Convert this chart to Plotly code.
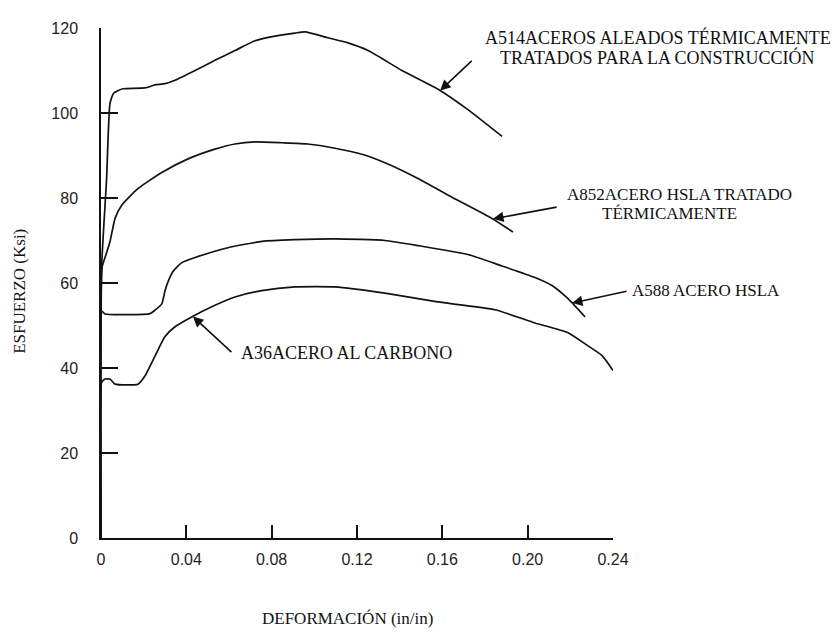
import plotly.graph_objects as go

# ---------------- data (strain in/in, stress ksi) ----------------
a514_strain = [0, 0.0003, 0.0026, 0.0042, 0.0058, 0.0081, 0.0103, 0.0206, 0.0253, 0.0300,
               0.0347, 0.0441, 0.0534, 0.0628, 0.0722, 0.0816, 0.0909, 0.0956, 0.1064,
               0.1158, 0.1252, 0.1411, 0.1580, 0.1720, 0.1880]
a514_stress = [0, 63.7, 84.3, 102.2, 104.6, 105.3, 105.7, 105.9, 106.6, 106.9,
               107.7, 110.0, 112.4, 114.7, 117.0, 118.1, 118.8, 119.1, 117.7,
               116.5, 114.7, 110.0, 105.6, 100.8, 94.5]

a852_strain = [0, 0.0005, 0.0019, 0.0042, 0.0066, 0.0097, 0.0173, 0.0285, 0.0408, 0.0534,
               0.0628, 0.0722, 0.0848, 0.0970, 0.1097, 0.1223, 0.1331, 0.1486, 0.1645,
               0.1833, 0.1931]
a852_stress = [0, 63.7, 66.0, 69.7, 75.2, 78.3, 82.2, 86.0, 89.2, 91.5,
               92.7, 93.2, 93.0, 92.7, 91.7, 90.3, 88.3, 84.6, 80.2,
               75.2, 72.0]

a588_strain = [0, 0.0003, 0.0019, 0.0230, 0.0253, 0.0285, 0.0300, 0.0316, 0.0339, 0.0379,
               0.0441, 0.0595, 0.0755, 0.0909, 0.1097, 0.1331, 0.1486, 0.1720, 0.1880,
               0.2034, 0.2114, 0.2189, 0.2269]
a588_stress = [0, 53.4, 52.7, 52.8, 53.6, 55.1, 58.2, 60.5, 62.8, 64.8,
               66.0, 68.3, 69.8, 70.2, 70.4, 70.0, 68.8, 66.7, 64.0,
               61.3, 59.4, 56.3, 52.0]

a36_strain = [0, 0.0003, 0.0019, 0.0042, 0.0066, 0.0173, 0.0206, 0.0253, 0.0300, 0.0347,
              0.0425, 0.0519, 0.0628, 0.0753, 0.0909, 0.1097, 0.1331, 0.1570, 0.1847,
              0.2034, 0.2189, 0.2283, 0.2349, 0.2400]
a36_stress = [0, 36.6, 37.4, 37.4, 36.2, 36.2, 38.1, 42.8, 47.4, 49.7,
              52.0, 54.4, 56.7, 58.2, 59.1, 59.1, 57.6, 55.6, 53.7,
              50.6, 48.3, 45.2, 42.9, 39.4]

x_ticks = [0, 0.04, 0.08, 0.12, 0.16, 0.20, 0.24]
x_tick_labels = ["0", "0.04", "0.08", "0.12", "0.16", "0.20", "0.24"]
y_ticks = [0, 20, 40, 60, 80, 100, 120]
y_tick_labels = ["0", "20", "40", "60", "80", "100", "120"]

# ---------------- figure ----------------
INK = "#111111"
SERIF = "Liberation Serif, Times New Roman, serif"
SANS = "Liberation Sans, Arial, sans-serif"

fig = go.Figure()
for xs, ys in [(a514_strain, a514_stress), (a852_strain, a852_stress),
               (a588_strain, a588_stress), (a36_strain, a36_stress)]:
    fig.add_trace(go.Scatter(x=xs, y=ys, mode="lines",
                             line=dict(color=INK, width=1.7, shape="spline", smoothing=0.5),
                             showlegend=False, hoverinfo="skip"))

# page body has an 8px margin; figure placed at (8, 8) on screen
W, H = 831, 624
L, R, T, B = 93, 226, 12, 94
# plot area in screen pixels
SX0, SX1, SY0, SY1 = 101, 613, 20, 538


def px(xs):
    return (xs - SX0) / (SX1 - SX0)


def py(ys):
    return (SY1 - ys) / (SY1 - SY0)


annotations = []
labels = [
    ("A514ACEROS ALEADOS TÉRMICAMENTE", 658, 30, "center", 18),
    ("TRATADOS PARA LA CONSTRUCCIÓN", 657, 50, "center", 18),
    ("A852ACERO HSLA TRATADO", 565, 189, "left", 17),
    ("TÉRMICAMENTE", 600, 208, "left", 17),
    ("A588 ACERO HSLA", 630, 287, "left", 17),
    ("A36ACERO AL CARBONO", 239, 350, "left", 18),
]
for txt, xs, ys, anc, fs in labels:
    annotations.append(dict(text=txt, x=px(xs), y=py(ys), xref="paper", yref="paper",
                            xanchor=anc, yanchor="middle", showarrow=False,
                            font=dict(family=SERIF, size=fs, color=INK)))

# arrows (head on curve in data coords, tail offset in pixels)
arrows = [
    (0.1590, 105.3, 33, -31),
    (0.1838, 75.1, 65, -12),
    (0.2208, 55.3, 56, -12),
    (0.0431, 52.1, 40, 37),
]
for xh, yh, axp, ayp in arrows:
    annotations.append(dict(text="", x=xh, y=yh, xref="x", yref="y", ax=axp, ay=ayp,
                            showarrow=True, arrowhead=2, arrowsize=1.3, arrowwidth=1.6,
                            arrowcolor=INK, standoff=0))

annotations.append(dict(text="DEFORMACIÓN (in/in)", x=px(347), y=py(620), xref="paper",
                        yref="paper", xanchor="center", yanchor="middle", showarrow=False,
                        font=dict(family=SERIF, size=17, color=INK)))
annotations.append(dict(text="ESFUERZO (Ksi)", x=px(20), y=py(288), xref="paper",
                        yref="paper", xanchor="center", yanchor="middle", showarrow=False,
                        textangle=-90, font=dict(family=SERIF, size=17, color=INK)))

axis_common = dict(showgrid=False, zeroline=False, showline=True, linecolor=INK,
                   linewidth=1.5, ticks="inside", tickwidth=1.5, tickcolor=INK,
                   tickfont=dict(family=SANS, size=16, color="#222222"))

fig.update_layout(
    width=W, height=H,
    margin=dict(l=L, r=R, t=T, b=B, pad=0),
    paper_bgcolor="white", plot_bgcolor="white",
    xaxis=dict(range=[0, 0.24], tickmode="array", tickvals=x_ticks, ticktext=x_tick_labels,
               ticklen=13, ticklabelstandoff=6, **axis_common),
    yaxis=dict(range=[0, 120], tickmode="array", tickvals=y_ticks, ticktext=y_tick_labels,
               ticklen=17, ticklabelstandoff=18, **axis_common),
    annotations=annotations,
)

fig.write_html("out.html")
